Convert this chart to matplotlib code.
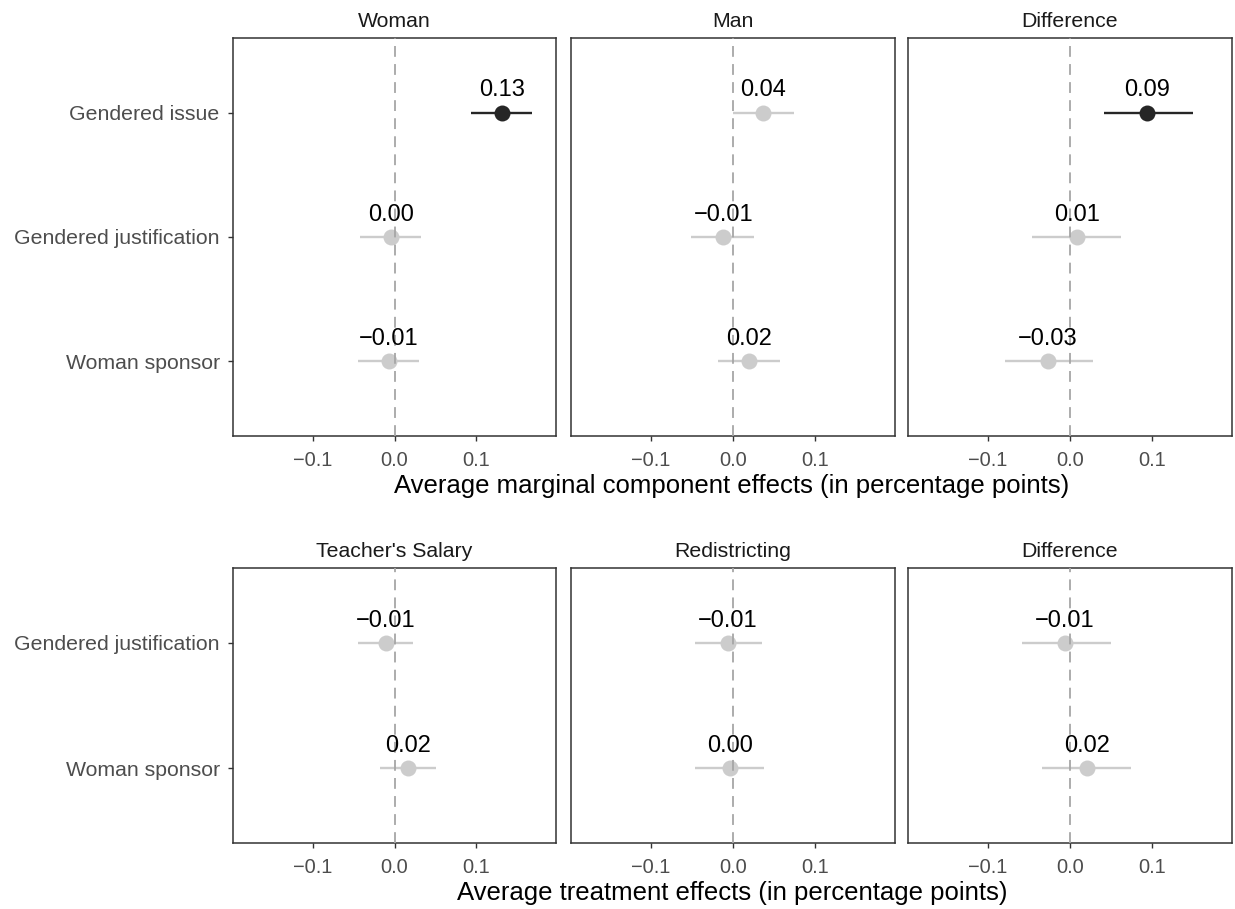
import matplotlib
matplotlib.use("Agg")
import matplotlib.pyplot as plt

plt.rcParams["font.family"] = ["Liberation Sans", "DejaVu Sans"]

# ---- data -------------------------------------------------------------
amce_terms = ["Gendered issue", "Gendered justification", "Woman sponsor"]
amce_panels = ["Woman", "Man", "Difference"]

woman_est = [0.132, -0.004, -0.007]
woman_lo = [0.094, -0.042, -0.045]
woman_hi = [0.169, 0.033, 0.030]

man_est = [0.037, -0.012, 0.020]
man_lo = [0.000, -0.051, -0.018]
man_hi = [0.075, 0.026, 0.058]

amce_diff_est = [0.094, 0.009, -0.027]
amce_diff_lo = [0.042, -0.046, -0.080]
amce_diff_hi = [0.150, 0.062, 0.028]

ate_terms = ["Gendered justification", "Woman sponsor"]
ate_panels = ["Teacher's Salary", "Redistricting", "Difference"]

teacher_est = [-0.011, 0.017]
teacher_lo = [-0.045, -0.018]
teacher_hi = [0.023, 0.051]

redist_est = [-0.006, -0.004]
redist_lo = [-0.047, -0.046]
redist_hi = [0.036, 0.038]

ate_diff_est = [-0.006, 0.021]
ate_diff_lo = [-0.059, -0.034]
ate_diff_hi = [0.050, 0.075]

x_ticks = [-0.1, 0.0, 0.1]
x_ticklabels = ["\u22120.1", "0.0", "0.1"]

# ---- styling ----------------------------------------------------------
W, H = 1235, 909
DARK = "#262626"
LIGHT = "#cccccc"
BORDER = "#333333"
TICKTXT = "#4d4d4d"
XLIM = (-0.198, 0.198)

fig = plt.figure(figsize=(W / 100, H / 100), dpi=100)
fig.patch.set_facecolor("white")


def px_axes(x0, y0, x1, y1):
    return fig.add_axes([x0 / W, 1 - y1 / H, (x1 - x0) / W, (y1 - y0) / H])


def fmt(v):
    s = f"{v:.2f}"
    if s == "-0.00":
        s = "0.00"
    return s.replace("-", "\u2212")


def draw_panel(ax, title, terms, est, lo, hi, show_y):
    n = len(terms)
    ys = list(range(n, 0, -1))
    for y, e, l, h in zip(ys, est, lo, hi):
        sig = l > 0 or h < 0
        c = DARK if sig else LIGHT
        ax.plot([l, h], [y, y], color=c, lw=1.7, solid_capstyle="butt", zorder=2)
        ax.plot([e], [y], "o", color=c, markersize=11.5, markeredgewidth=0, zorder=2.5)
        ax.annotate(fmt(e), xy=(e, y), xytext=(0, 11.7), textcoords="offset points",
                    ha="center", va="baseline", fontsize=17, color="black", zorder=4)
    ax.axvline(0, color="#a6a6a6", lw=1.3, dashes=(6, 4), zorder=3)
    ax.set_xlim(*XLIM)
    ax.set_ylim(0.4, n + 0.6)
    ax.set_xticks(x_ticks)
    ax.set_xticklabels(x_ticklabels, fontsize=14.4, color=TICKTXT)
    ax.tick_params(axis="x", length=3.6, width=1.0, color=BORDER, pad=7)
    if show_y:
        ax.set_yticks(ys)
        ax.set_yticklabels(terms, fontsize=15.3, color=TICKTXT)
        ax.tick_params(axis="y", length=3.6, width=1.0, color=BORDER, pad=6)
    else:
        ax.set_yticks([])
    for sp in ax.spines.values():
        sp.set_color(BORDER)
        sp.set_linewidth(1.1)
    ax.annotate(title, xy=(0.5, 1), xycoords="axes fraction", xytext=(0, 8),
                textcoords="offset points", ha="center", va="baseline",
                fontsize=15.3, color="#1a1a1a")


cols = [(233, 556), (571, 895), (908, 1232)]

amce = [(woman_est, woman_lo, woman_hi),
        (man_est, man_lo, man_hi),
        (amce_diff_est, amce_diff_lo, amce_diff_hi)]
for i, ((x0, x1), name, (e, l, h)) in enumerate(zip(cols, amce_panels, amce)):
    ax = px_axes(x0, 38, x1, 436)
    draw_panel(ax, name, amce_terms, e, l, h, show_y=(i == 0))

ate = [(teacher_est, teacher_lo, teacher_hi),
       (redist_est, redist_lo, redist_hi),
       (ate_diff_est, ate_diff_lo, ate_diff_hi)]
for i, ((x0, x1), name, (e, l, h)) in enumerate(zip(cols, ate_panels, ate)):
    ax = px_axes(x0, 568, x1, 843)
    draw_panel(ax, name, ate_terms, e, l, h, show_y=(i == 0))

fig.text(732 / W, 1 - 493 / H, "Average marginal component effects (in percentage points)",
         ha="center", va="baseline", fontsize=18.5, color="black")
fig.text(732 / W, 1 - 900 / H, "Average treatment effects (in percentage points)",
         ha="center", va="baseline", fontsize=18.5, color="black")

fig.savefig("out.png", dpi=100, facecolor="white")
